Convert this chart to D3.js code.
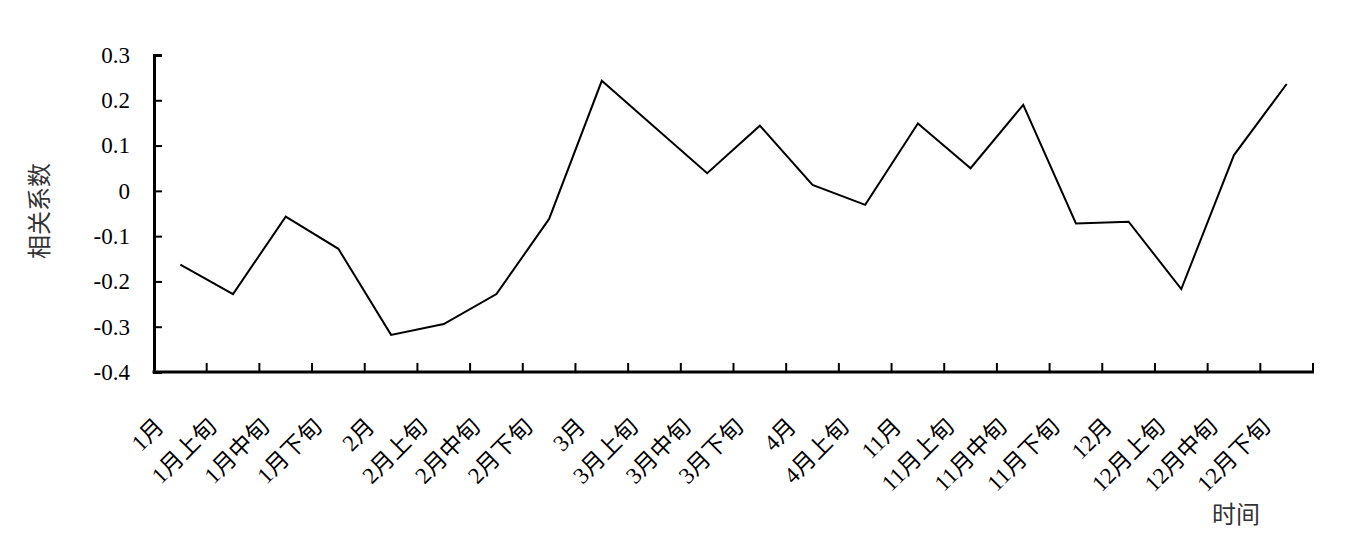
<!DOCTYPE html>
<html>
<head>
<meta charset="utf-8">
<script src="https://cdn.jsdelivr.net/npm/d3@7"></script>
<style>
  body { margin: 0; background: #fff; }
  text { font-family: "Liberation Serif", "Times New Roman", "Noto Sans CJK SC", serif; }
</style>
</head>
<body>
<svg width="1361" height="541"></svg>
<script>
var categories = ['1月', '1月上旬', '1月中旬', '1月下旬', '2月', '2月上旬', '2月中旬', '2月下旬',
	'3月', '3月上旬', '3月中旬', '3月下旬', '4月', '4月上旬', '11月', '11月上旬', '11月中旬', '11月下旬',
	'12月', '12月上旬', '12月中旬', '12月下旬'];
var values = [-0.163, -0.228, -0.057, -0.128, -0.318, -0.294, -0.228, -0.062,
	0.243, 0.141, 0.039, 0.144, 0.013, -0.031, 0.149, 0.05, 0.19, -0.072,
	-0.068, -0.217, 0.079, 0.236];
var yTicks = [-0.4, -0.3, -0.2, -0.1, 0, 0.1, 0.2, 0.3];
var yTickLabels = ['-0.4', '-0.3', '-0.2', '-0.1', '0', '0.1', '0.2', '0.3'];

function main() {
	var svg = d3.select('svg');
	var left = 154, right = 1313, top = 55, bottom = 372;

	var x = d3.scaleBand().domain(categories).range([left, right]).padding(0);
	var y = d3.scaleLinear().domain([-0.4, 0.3]).range([bottom, top]);

	// y axis
	var yAxis = d3.axisLeft(y)
		.tickValues(yTicks)
		.tickSize(-8)
		.tickPadding(24)
		.tickFormat(function(d, i){ return yTickLabels[i]; });
	var gy = svg.append('g').attr('transform', 'translate(' + left + ',0)').call(yAxis);
	gy.select('.domain').attr('stroke', '#000').attr('stroke-width', 3);
	gy.selectAll('.tick line').attr('stroke', '#000').attr('stroke-width', 2);
	gy.selectAll('.tick text').attr('font-size', 23).attr('fill', '#000')
		.style('font-family', '"Liberation Serif", serif');

	// x axis line
	svg.append('line')
		.attr('x1', left - 1.5).attr('x2', right + 1)
		.attr('y1', bottom).attr('y2', bottom)
		.attr('stroke', '#000').attr('stroke-width', 3);

	// x ticks at band edges
	var edges = categories.slice(1).map(function(c){ return x(c); }).concat([right]);
	svg.selectAll('.xtick').data(edges).enter().append('line')
		.attr('class', 'xtick')
		.attr('x1', function(d){ return d; }).attr('x2', function(d){ return d; })
		.attr('y1', bottom).attr('y2', bottom - 9)
		.attr('stroke', '#000').attr('stroke-width', 2);

	// x labels rotated
	svg.selectAll('.xlabel').data(categories).enter().append('text')
		.attr('class', 'xlabel')
		.attr('text-anchor', 'end')
		.attr('font-size', 23)
		.attr('transform', function(d){
			var cx = x(d) + x.bandwidth() / 2 - 15;
			return 'translate(' + cx + ',428) rotate(-45)';
		})
		.text(function(d){ return d; });

	// line
	var line = d3.line()
		.x(function(d, i){ return x(categories[i]) + x.bandwidth() / 2; })
		.y(function(d){ return y(d); });
	svg.append('path')
		.datum(values)
		.attr('d', line)
		.attr('fill', 'none')
		.attr('stroke', '#000')
		.attr('stroke-width', 2);

	// axis titles
	svg.append('text')
		.attr('transform', 'translate(48,211) rotate(-90)')
		.attr('text-anchor', 'middle')
		.attr('font-size', 24)
		.attr('fill', '#333')
		.text('相关系数');
	svg.append('text')
		.attr('x', 1236).attr('y', 523)
		.attr('text-anchor', 'middle')
		.attr('font-size', 24)
		.attr('fill', '#333')
		.text('时间');
}
main();
</script>
</body>
</html>
